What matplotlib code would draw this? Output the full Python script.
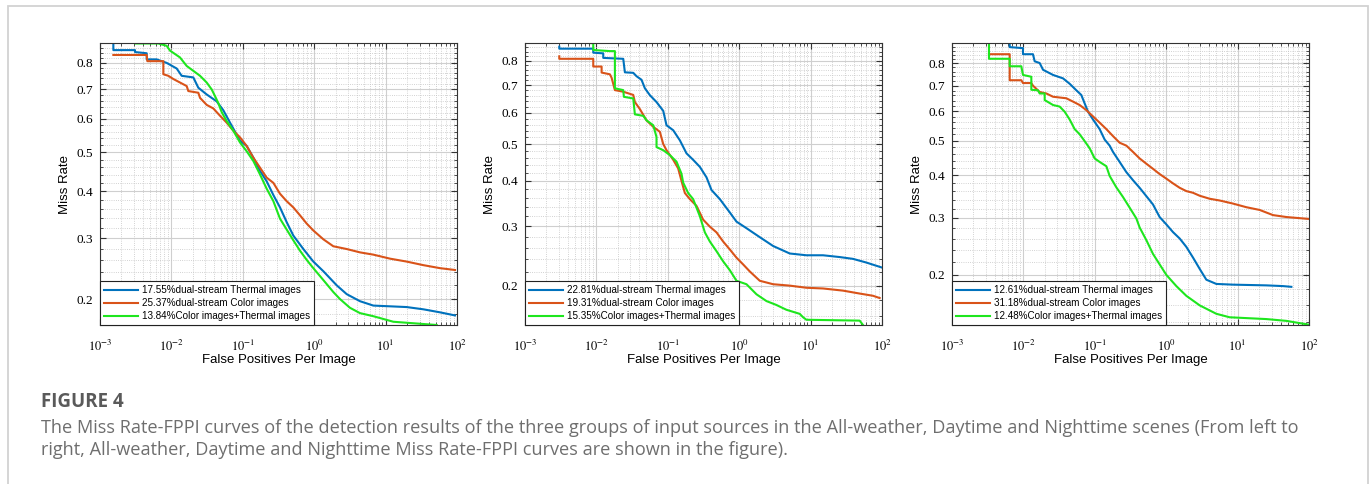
import numpy as np
import matplotlib.pyplot as plt
from matplotlib.ticker import FixedLocator, NullFormatter
from matplotlib.patches import Rectangle

plt.rcParams['font.family'] = 'Liberation Sans'
plt.rcParams['mathtext.fontset'] = 'stix'

# FPPI values are stored as log10 exponents
# --- All-weather ---
aw_thermal_e = [-2.813, -2.813, -2.510, -2.510, -2.346, -2.346, -2.206, -2.066, -1.926, -1.856,
                -1.693, -1.623, -1.506, -1.366, -1.273, -1.179, -1.039, -0.946, -0.852, -0.759,
                -0.666, -0.572, -0.479, -0.386, -0.292, -0.152, -0.012, 0.128, 0.315, 0.455,
                0.641, 0.828, 1.062, 1.295, 1.528, 1.762, 1.972]
aw_thermal_y = [0.878, 0.852, 0.852, 0.844, 0.839, 0.814, 0.814, 0.800, 0.778, 0.750,
                0.744, 0.706, 0.682, 0.658, 0.628, 0.588, 0.533, 0.518, 0.485, 0.450,
                0.424, 0.391, 0.363, 0.332, 0.305, 0.280, 0.258, 0.242, 0.220, 0.207,
                0.197, 0.191, 0.190, 0.189, 0.186, 0.182, 0.178]
aw_color_e = [-2.813, -2.346, -2.337, -2.113, -2.113, -2.043, -1.973, -1.880, -1.786, -1.763,
              -1.623, -1.599, -1.506, -1.413, -1.319, -1.226, -1.133, -1.039, -0.946, -0.852,
              -0.666, -0.572, -0.479, -0.386, -0.292, -0.199, -0.106, -0.012, 0.128, 0.268,
              0.455, 0.641, 0.828, 1.062, 1.295, 1.528, 1.762, 1.972]
aw_color_y = [0.832, 0.832, 0.807, 0.807, 0.756, 0.750, 0.738, 0.725, 0.712, 0.694,
              0.688, 0.670, 0.646, 0.634, 0.610, 0.588, 0.563, 0.543, 0.518, 0.485,
              0.433, 0.420, 0.394, 0.377, 0.363, 0.346, 0.329, 0.315, 0.298, 0.285,
              0.280, 0.274, 0.270, 0.263, 0.258, 0.252, 0.247, 0.244]
aw_fused_e = [-2.813, -2.510, -2.510, -2.183, -2.066, -2.020, -1.880, -1.786, -1.693, -1.599,
              -1.506, -1.436, -1.389, -1.343, -1.296, -1.226, -1.133, -1.039, -0.946, -0.852,
              -0.759, -0.666, -0.572, -0.479, -0.386, -0.292, -0.199, -0.106, -0.012, 0.128,
              0.268, 0.361, 0.501, 0.641, 0.828, 1.108, 1.715]
aw_fused_y = [0.894, 0.894, 0.880, 0.880, 0.870, 0.850, 0.822, 0.788, 0.769, 0.750,
              0.725, 0.700, 0.676, 0.652, 0.622, 0.593, 0.563, 0.528, 0.503, 0.476,
              0.441, 0.406, 0.377, 0.339, 0.317, 0.296, 0.277, 0.261, 0.247, 0.228,
              0.210, 0.200, 0.188, 0.181, 0.177, 0.170, 0.166]

# --- Daytime ---
day_thermal_e = [-2.520, -2.520, -2.044, -2.044, -1.904, -1.904, -1.624, -1.601, -1.484, -1.437,
                 -1.368, -1.321, -1.251, -1.158, -1.064, -1.018, -0.924, -0.831, -0.738, -0.645,
                 -0.551, -0.458, -0.388, -0.271, -0.132, -0.038, 0.102, 0.288, 0.475, 0.708,
                 0.941, 1.174, 1.408, 1.594, 1.781, 2.000]
day_thermal_y = [0.862, 0.853, 0.853, 0.835, 0.832, 0.812, 0.808, 0.751, 0.749, 0.735,
                 0.721, 0.688, 0.662, 0.637, 0.606, 0.558, 0.542, 0.511, 0.473, 0.455,
                 0.436, 0.409, 0.378, 0.357, 0.328, 0.309, 0.296, 0.279, 0.263, 0.250,
                 0.247, 0.247, 0.244, 0.241, 0.235, 0.227]
day_color_e = [-2.520, -2.520, -2.044, -2.044, -1.927, -1.927, -1.811, -1.787, -1.741, -1.624,
               -1.484, -1.461, -1.391, -1.298, -1.204, -1.111, -1.064, -1.018, -0.924, -0.855,
               -0.808, -0.761, -0.691, -0.598, -0.505, -0.411, -0.318, -0.225, -0.132, -0.038,
               0.055, 0.148, 0.288, 0.475, 0.708, 0.941, 1.174, 1.454, 1.687, 1.874, 1.967]
day_color_y = [0.819, 0.808, 0.808, 0.775, 0.775, 0.750, 0.743, 0.729, 0.681, 0.675,
               0.663, 0.637, 0.612, 0.574, 0.553, 0.537, 0.500, 0.482, 0.455, 0.432,
               0.400, 0.371, 0.357, 0.342, 0.313, 0.299, 0.288, 0.271, 0.257, 0.243,
               0.232, 0.221, 0.207, 0.202, 0.200, 0.197, 0.196, 0.193, 0.189, 0.186, 0.183]
day_fused_e = [-2.520, -2.044, -2.044, -1.811, -1.741, -1.741, -1.624, -1.615, -1.484, -1.461,
               -1.344, -1.298, -1.204, -1.158, -1.158, -1.064, -0.971, -0.878, -0.808, -0.785,
               -0.715, -0.645, -0.551, -0.481, -0.411, -0.318, -0.225, -0.132, -0.038, 0.102,
               0.242, 0.382, 0.521, 0.661, 0.848, 0.894, 0.941, 1.687, 1.734]
day_fused_y = [0.885, 0.878, 0.847, 0.842, 0.842, 0.688, 0.681, 0.656, 0.650, 0.594,
               0.589, 0.574, 0.558, 0.521, 0.491, 0.482, 0.468, 0.450, 0.418, 0.396,
               0.371, 0.357, 0.320, 0.288, 0.271, 0.254, 0.237, 0.223, 0.207, 0.202,
               0.188, 0.179, 0.174, 0.168, 0.163, 0.159, 0.156, 0.155, 0.150]

# --- Nighttime ---
night_thermal_e = [-2.482, -2.192, -2.192, -2.006, -2.006, -1.866, -1.842, -1.772, -1.725, -1.585,
                   -1.445, -1.352, -1.259, -1.189, -1.142, -1.095, -1.025, -0.932, -0.862, -0.792,
                   -0.745, -0.652, -0.558, -0.465, -0.372, -0.278, -0.185, -0.092, 0.002, 0.095,
                   0.189, 0.282, 0.375, 0.469, 0.562, 0.702, 0.936, 1.402, 1.636, 1.753]
night_thermal_y = [0.906, 0.906, 0.877, 0.872, 0.842, 0.842, 0.808, 0.800, 0.769, 0.746,
                   0.731, 0.708, 0.681, 0.662, 0.629, 0.598, 0.570, 0.537, 0.503, 0.484,
                   0.465, 0.436, 0.408, 0.387, 0.368, 0.348, 0.329, 0.302, 0.287, 0.272,
                   0.260, 0.245, 0.227, 0.209, 0.193, 0.187, 0.186, 0.185, 0.184, 0.183]
night_color_e = [-2.482, -2.192, -2.192, -2.029, -2.006, -1.889, -1.866, -1.772, -1.679, -1.585,
                 -1.399, -1.305, -1.212, -1.119, -1.025, -0.932, -0.838, -0.745, -0.652, -0.558,
                 -0.465, -0.372, -0.278, -0.185, -0.092, 0.002, 0.095, 0.189, 0.282, 0.375,
                 0.469, 0.609, 0.749, 0.936, 1.122, 1.309, 1.496, 1.683, 2.000]
night_color_y = [0.842, 0.842, 0.723, 0.723, 0.711, 0.711, 0.700, 0.674, 0.668, 0.655,
                 0.649, 0.636, 0.623, 0.604, 0.581, 0.559, 0.537, 0.514, 0.493, 0.484,
                 0.465, 0.446, 0.431, 0.417, 0.403, 0.391, 0.379, 0.368, 0.360, 0.356,
                 0.349, 0.342, 0.338, 0.331, 0.323, 0.317, 0.306, 0.302, 0.298]
night_fused_e = [-2.482, -2.482, -2.192, -2.192, -2.029, -2.006, -1.889, -1.889, -1.796, -1.772,
                 -1.702, -1.702, -1.585, -1.492, -1.422, -1.352, -1.282, -1.212, -1.142, -1.072,
                 -1.002, -0.932, -0.838, -0.792, -0.698, -0.605, -0.512, -0.418, -0.372, -0.278,
                 -0.185, -0.092, 0.002, 0.142, 0.282, 0.469, 0.702, 0.889, 1.402, 1.683, 1.986]
night_fused_y = [0.890, 0.820, 0.820, 0.785, 0.785, 0.746, 0.738, 0.683, 0.681, 0.668,
                 0.668, 0.642, 0.623, 0.617, 0.598, 0.570, 0.537, 0.520, 0.498, 0.476,
                 0.446, 0.436, 0.424, 0.398, 0.369, 0.346, 0.322, 0.299, 0.281, 0.257,
                 0.233, 0.216, 0.200, 0.184, 0.171, 0.159, 0.149, 0.145, 0.143, 0.141, 0.137]

panels = [
    ([aw_thermal_e, aw_color_e, aw_fused_e], [aw_thermal_y, aw_color_y, aw_fused_y],
     ['17.55%dual-stream Thermal images', '25.37%dual-stream Color images',
      '13.84%Color images+Thermal images'], (0.166, 0.882)),
    ([day_thermal_e, day_color_e, day_fused_e], [day_thermal_y, day_color_y, day_fused_y],
     ['22.81%dual-stream Thermal images', '19.31%dual-stream Color images',
      '15.35%Color images+Thermal images'], (0.150, 0.879)),
    ([night_thermal_e, night_color_e, night_fused_e], [night_thermal_y, night_color_y, night_fused_y],
     ['12.61%dual-stream Thermal images', '31.18%dual-stream Color images',
      '12.48%Color images+Thermal images'], (0.1365, 0.898)),
]
# the printed y axes are squeezed compared with a true log axis; a power scale follows them
y_powers = [0.25, 0.2, 0.17]
colors = ['#0072BD', '#D95319', '#1EE61E']

y_ticks = [0.2, 0.3, 0.4, 0.5, 0.6, 0.7, 0.8]
x_ticks = [1e-3, 1e-2, 1e-1, 1e0, 1e1, 1e2]
x_ticklabels = ['$10^{-3}$', '$10^{-2}$', '$10^{-1}$', '$10^{0}$', '$10^{1}$', '$10^{2}$']

W, H = 1372, 484
fig = plt.figure(figsize=(W / 100, H / 100), dpi=100)
lefts = [100, 525, 952]

for left, p, (xs, ys, labels, ylim) in zip(lefts, y_powers, panels):
    ax = fig.add_axes([left / W, 1 - 325 / H, 357 / W, 282 / H])
    for e, y, c, lab in zip(xs, ys, colors, labels):
        ax.plot(10.0 ** np.array(e), y, color=c, lw=1.5, label=lab)
    ax.set_xscale('log')
    ax.set_yscale('function', functions=(lambda v, p=p: np.power(np.clip(v, 1e-6, None), p),
                                          lambda v, p=p: np.power(np.clip(v, 1e-6, None), 1 / p)))
    ax.set_xlim(1e-3, 1e2)
    ax.set_ylim(*ylim)
    ax.xaxis.set_major_locator(FixedLocator(x_ticks))
    ax.set_xticklabels(x_ticklabels, fontsize=9)
    ax.yaxis.set_major_locator(FixedLocator(y_ticks))
    ax.yaxis.set_minor_locator(FixedLocator(np.arange(0.14, 0.92, 0.02)))
    ax.yaxis.set_minor_formatter(NullFormatter())
    ax.set_yticklabels(['0.2', '0.3', '0.4', '0.5', '0.6', '0.7', '0.8'],
                       family='Liberation Serif', fontsize=9.5)
    ax.grid(True, which='major', color='#cfcfcf', lw=0.8)
    ax.grid(True, which='minor', color='#c4c4c4', lw=0.6, ls=':')
    ax.tick_params(which='both', direction='in', top=True, right=True, color='#333333')
    ax.tick_params(which='major', length=4, pad=5)
    ax.tick_params(which='minor', length=2)
    ax.tick_params(axis='x', pad=10)
    for s in ax.spines.values():
        s.set_color('#333333')
        s.set_linewidth(0.8)
    ax.set_xlabel('False Positives Per Image', fontsize=9.5, labelpad=0)
    ax.set_ylabel('Miss Rate', fontsize=9.5, labelpad=4)
    leg = ax.legend(loc='lower left', borderaxespad=0, fontsize=7.1, handlelength=3.5,
                    handletextpad=0.35, labelspacing=0.3, borderpad=0.4, fancybox=False)
    leg.get_frame().set_edgecolor('#222222')
    leg.get_frame().set_linewidth(0.8)
    leg.get_frame().set_alpha(1)

fig.add_artist(Rectangle((8 / W, -0.05), 1360 / W, 1 - 6 / H + 0.05, transform=fig.transFigure,
                         facecolor='none', edgecolor='#d2d2d2', lw=1.3))
fig.text(41 / W, 1 - 407 / H, 'FIGURE 4', fontsize=13.5, fontweight='bold', color='#5a5a5a',
         va='baseline', family='Open Sans')
fig.text(41 / W, 1 - 433 / H,
         'The Miss Rate-FPPI curves of the detection results of the three groups of input sources '
         'in the All-weather, Daytime and Nighttime scenes (From left to',
         fontsize=13.05, color='#6e6e6e', va='baseline', family='Open Sans')
fig.text(41 / W, 1 - 455 / H,
         'right, All-weather, Daytime and Nighttime Miss Rate-FPPI curves are shown in the figure).',
         fontsize=13.05, color='#6e6e6e', va='baseline', family='Open Sans')

fig.savefig('out.png', dpi=100)
